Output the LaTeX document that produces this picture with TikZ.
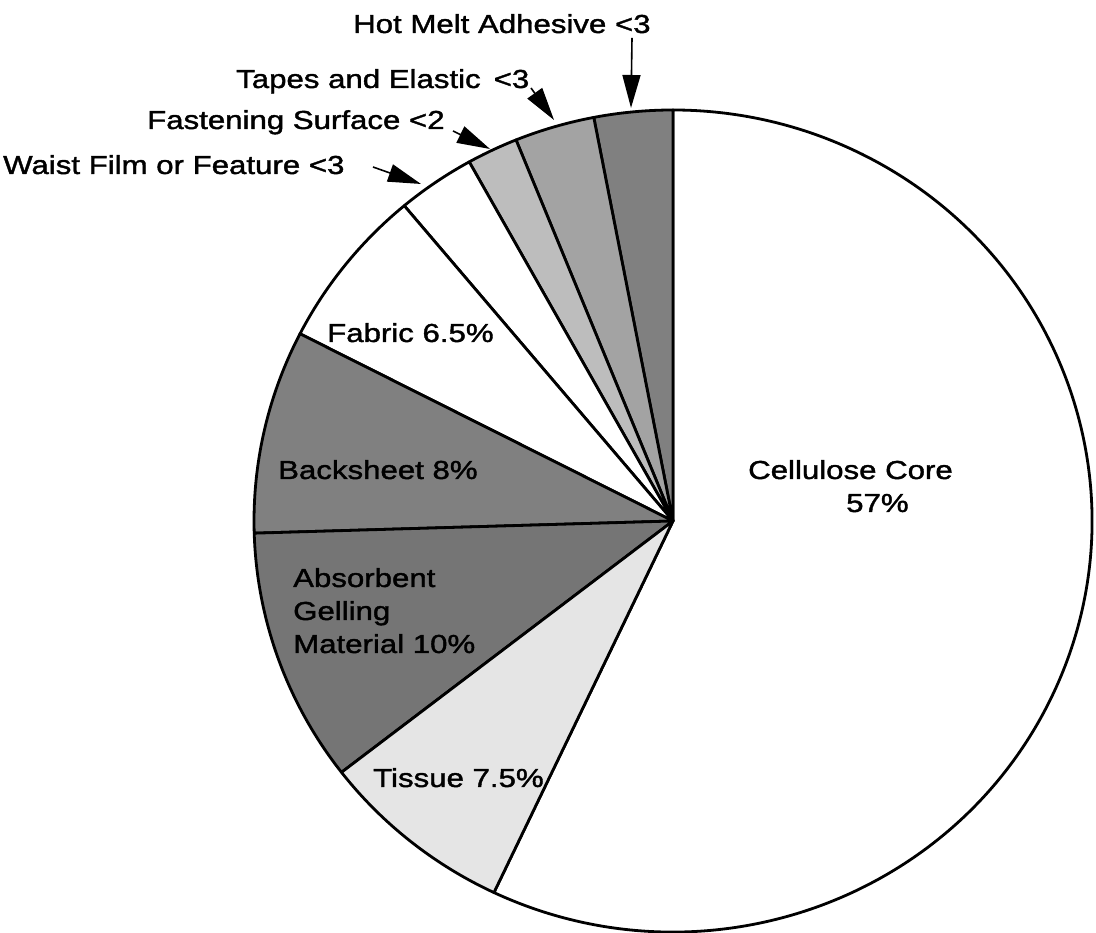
\documentclass[tikz,border=0pt]{standalone}
\usepackage{fontspec}
\setmainfont{Liberation Sans}[FakeStretch=1.2,FakeBold=1.5]
\usetikzlibrary{arrows.meta}

\definecolor{hotmelt}{gray}{0.50}
\definecolor{tapes}{gray}{0.64}
\definecolor{fasten}{gray}{0.74}
\definecolor{backsheet}{gray}{0.50}
\definecolor{agm}{gray}{0.46}
\definecolor{tissue}{gray}{0.90}

\begin{document}
\begin{tikzpicture}[x=1pt,y=1pt,
  slice/.style={draw=black, line width=2.8pt, line join=round},
  lbl/.style={font=\fontsize{26}{33}\selectfont, inner sep=0pt, anchor=base west},
  pointer/.style={line width=1.6pt, -{Triangle[length=33pt,width=18pt]}},
]
\useasboundingbox (0,0) rectangle (1096,933);

% pie centre; the disc is 419 wide and 411 tall (radii)
\coordinate (O) at (673,412);
\newcommand{\pieslice}[3]{%
  \filldraw[slice, fill=#1] (O) -- +(#2:419pt and 411pt)
    arc[start angle=#2, end angle=#3, x radius=419pt, y radius=411pt] -- cycle;}

\pieslice{white}{-115.3}{90}       % cellulose core
\pieslice{hotmelt}{90}{100.9}      % hot melt adhesive
\pieslice{tapes}{100.9}{112.0}     % tapes and elastic
\pieslice{fasten}{112.0}{119.1}    % fastening surface
\pieslice{white}{119.1}{129.9}     % waist film
\pieslice{white}{129.9}{152.9}     % fabric
\pieslice{backsheet}{152.9}{181.7} % backsheet
\pieslice{agm}{181.7}{217.7}       % absorbent gelling material
\pieslice{tissue}{217.7}{244.7}    % tissue

% labels inside the pie
\node[lbl] (cell)  at (748,454) {Cellulose Core};
\node[lbl] (cellp) at (846,421) {57\%};
\node[lbl] (tis)   at (373,146) {Tissue 7.5\%};
\node[lbl] (agm1)  at (293,346) {Absorbent};
\node[lbl] (agm2)  at (293,313) {Gelling};
\node[lbl] (agm3)  at (293,280) {Material 10\%};
\node[lbl] (back)  at (278,454) {Backsheet 8\%};
\node[lbl] (fab)   at (327,591) {Fabric 6.5\%};

% labels outside the pie
\node[lbl] (hot)   at (353,900) {Hot Melt Adhesive <3};
\node[lbl] (tap)   at (236,845) {Tapes and Elastic\hspace{13pt}<3};
\node[lbl] (fas)   at (147,804) {Fastening Surface <2};
\node[lbl] (wai)   at (3,759)   {Waist Film or Feature <3};

% pointer ends
\coordinate (hotS) at (632,895);  \coordinate (hotT) at (631,825);
\coordinate (tapS) at (531,845);  \coordinate (tapT) at (554,813);
\coordinate (fasS) at (453,802);  \coordinate (fasT) at (490,784);
\coordinate (waiS) at (373,766);  \coordinate (waiT) at (421,749);

\draw[pointer] (hotS) -- (hotT);
\draw[pointer] (tapS) -- (tapT);
\draw[pointer] (fasS) -- (fasT);
\draw[pointer] (waiS) -- (waiT);
\end{tikzpicture}
\end{document}
